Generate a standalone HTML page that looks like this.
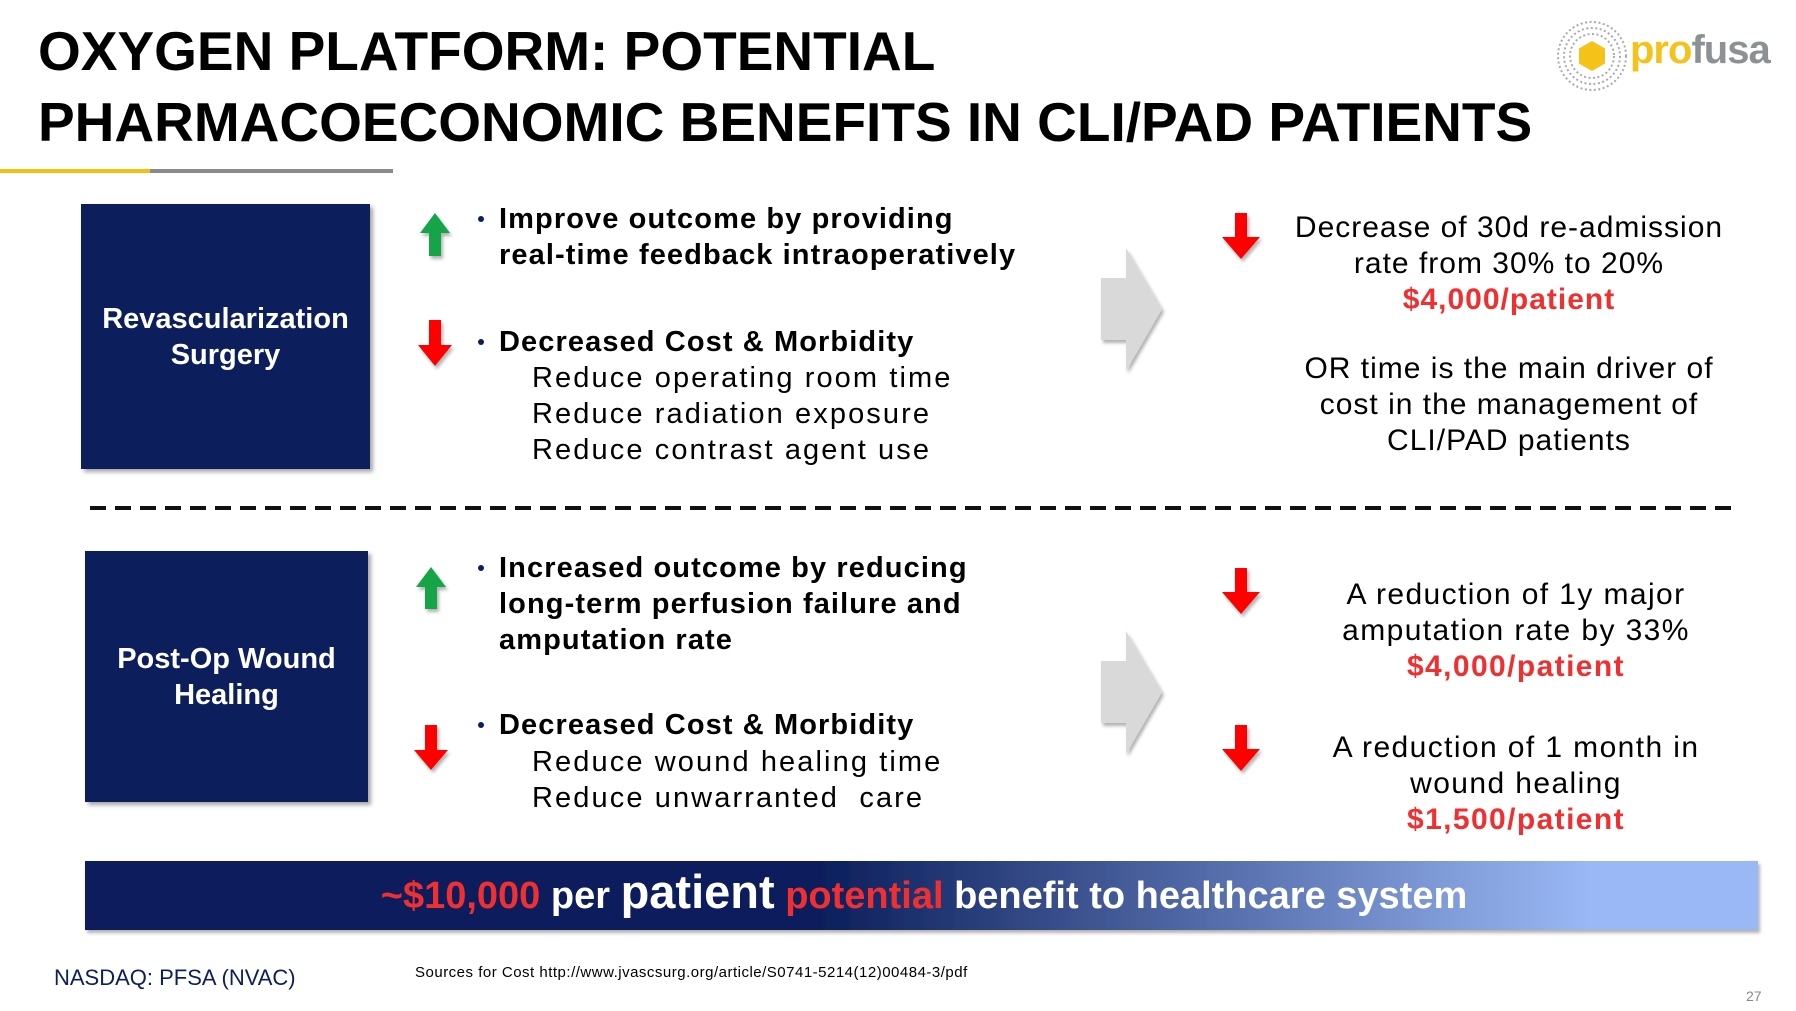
<!DOCTYPE html>
<html><head><meta charset="utf-8"><style>
body{margin:0;width:1796px;height:1011px;background:#fff;position:relative;overflow:hidden;font-family:"Liberation Sans",sans-serif}
.a{position:absolute;white-space:nowrap}
.t{font-weight:bold;font-size:55px;color:#000;left:38px}
.box{position:absolute;background:#0c1f5c;color:#fff;font-weight:bold;font-size:29px;display:flex;align-items:center;justify-content:center;text-align:center;line-height:36px;box-shadow:3px 3px 4px rgba(0,0,0,.35)}
.b{font-weight:bold;font-size:29px;color:#000;left:499px;line-height:36px;letter-spacing:1.1px}
.s{font-size:29px;color:#000;left:532px;line-height:36px;letter-spacing:2.1px}
.dot{position:absolute;width:6px;height:6px;border-radius:3px;background:#0c1f5c}
.r{font-size:30px;color:#000;line-height:36px;transform:translateX(-50%);text-align:center;letter-spacing:1px}
.red{color:#f03030;font-weight:bold}
</style></head><body>
<div class="a t" style="top:19px">OXYGEN PLATFORM: POTENTIAL</div>
<div class="a t" style="top:90px">PHARMACOECONOMIC BENEFITS IN CLI/PAD PATIENTS</div>
<div class="a" style="left:0;top:169px;width:150px;height:4px;background:#f2c014"></div>
<div class="a" style="left:150px;top:169px;width:243px;height:4px;background:#8a8a8a"></div>

<svg class="a" style="left:1552px;top:17px" width="80" height="78" viewBox="0 0 80 78">
<circle cx="40" cy="39" r="34" fill="none" stroke="#aaa" stroke-width="2" stroke-dasharray="2 2.5"/>
<circle cx="40" cy="39" r="28" fill="none" stroke="#aaa" stroke-width="2" stroke-dasharray="2 2.5"/>
<circle cx="40" cy="39" r="22" fill="none" stroke="#aaa" stroke-width="2" stroke-dasharray="2 2.5"/>
<polygon points="40,24 53,31.5 53,46.5 40,54 27,46.5 27,31.5" fill="#f5c21a"/>
</svg>
<div class="a" style="left:1630px;top:28px;font-size:40px;font-weight:bold;letter-spacing:-1px"><span style="color:#f5c21a">pro</span><span style="color:#8c9294">fusa</span></div>

<div class="box" style="left:81px;top:204px;width:289px;height:265px">Revascularization<br>Surgery</div>
<div class="box" style="left:85px;top:551px;width:283px;height:251px">Post-Op Wound<br>Healing</div>

<svg class="a" style="left:0;top:0" width="1796" height="1011">
<defs><filter id="sh"><feDropShadow dx="2" dy="3" stdDeviation="1.5" flood-opacity="0.3"/></filter>
<linearGradient id="g" x1="0" x2="1"><stop offset="0.44" stop-color="#0c1f5c"/><stop offset="0.9" stop-color="#9ab8f5"/><stop offset="1" stop-color="#9ab8f5"/></linearGradient></defs>
<g filter="url(#sh)">
<polygon points="435,213 450,233 441,233 441,256 429,256 429,233 420,233" fill="#15a448"/>
<polygon points="429,320 441,320 441,345 452,345 435,366 418,345 429,345" fill="#f00"/>
<polygon points="431,567 446,587 437,587 437,609 425,609 425,587 416,587" fill="#15a448"/>
<polygon points="425,725 437,725 437,750 448,750 431,770 414,750 425,750" fill="#f00"/>
<polygon points="1235,213 1247,213 1247,237 1260,237 1241,259 1222,237 1235,237" fill="#f00"/>
<polygon points="1235,568 1247,568 1247,592 1260,592 1241,614 1222,592 1235,592" fill="#f00"/>
<polygon points="1235,725 1247,725 1247,749 1260,749 1241,771 1222,749 1235,749" fill="#f00"/>
<polygon points="1101,278 1126,278 1126,248 1162,309 1126,371 1126,340 1101,340" fill="#d9d9d9"/>
<polygon points="1101,661 1126,661 1126,631 1162,692 1126,754 1126,723 1101,723" fill="#d9d9d9"/>
<rect x="85" y="861" width="1673" height="69" fill="url(#g)"/>
</g>
<line x1="90" y1="508" x2="1732" y2="508" stroke="#111" stroke-width="4" stroke-dasharray="16 9"/>
</svg>

<div class="dot" style="left:478px;top:216px"></div>
<div class="a b" style="top:201px">Improve outcome by providing<br>real-time feedback intraoperatively</div>
<div class="dot" style="left:478px;top:339px"></div>
<div class="a b" style="top:324px">Decreased Cost &amp; Morbidity</div>
<div class="a s" style="top:360px">Reduce operating room time<br>Reduce radiation exposure<br>Reduce contrast agent use</div>

<div class="dot" style="left:478px;top:565px"></div>
<div class="a b" style="top:550px">Increased outcome by reducing<br>long-term perfusion failure and<br>amputation rate</div>
<div class="dot" style="left:478px;top:722px"></div>
<div class="a b" style="top:707px">Decreased Cost &amp; Morbidity</div>
<div class="a s" style="top:744px">Reduce wound healing time<br>Reduce unwarranted&nbsp; care</div>

<div class="a r" style="left:1509px;top:210px">Decrease of 30d re-admission<br>rate from 30% to 20%<br><span class="red">$4,000/patient</span></div>
<div class="a r" style="left:1509px;top:351px">OR time is the main driver of<br>cost in the management of<br>CLI/PAD patients</div>
<div class="a r" style="left:1516px;top:577px;letter-spacing:1.4px">A reduction of 1y major<br>amputation rate by 33%<br><span class="red">$4,000/patient</span></div>
<div class="a r" style="left:1516px;top:730px;letter-spacing:1.4px">A reduction of 1 month in<br>wound healing<br><span class="red">$1,500/patient</span></div>

<div class="a" style="left:924px;top:868px;transform:translateX(-50%);font-weight:bold;font-size:38px;color:#fff;line-height:48px"><span style="color:#f03030">~$10,000</span> per <span style="font-size:47px">patient</span> <span style="color:#f03030">potential</span> benefit to healthcare system</div>

<div class="a" style="left:54px;top:965px;font-size:22px;color:#0c1f5c">NASDAQ: PFSA (NVAC)</div>
<div class="a" style="left:415px;top:964px;font-size:15px;color:#000;letter-spacing:0.5px">Sources for Cost http://www.jvascsurg.org/article/S0741-5214(12)00484-3/pdf</div>
<div class="a" style="left:1746px;top:988px;font-size:14px;color:#888">27</div>
</body></html>
